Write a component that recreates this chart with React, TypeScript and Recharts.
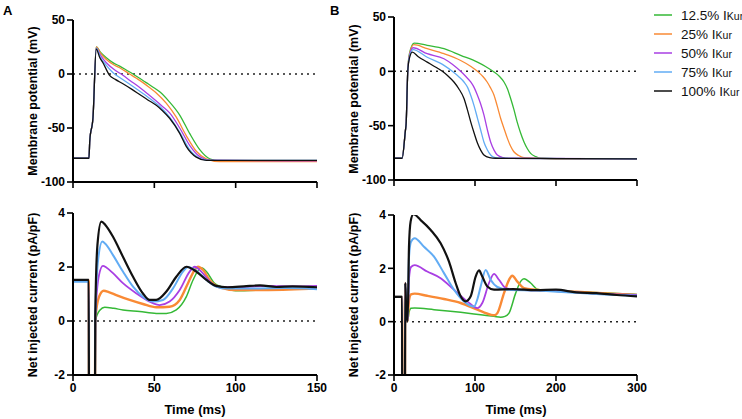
import React from 'react';
import { LineChart, Line, XAxis, YAxis, ReferenceLine } from 'recharts';

type Pt = [number, number];

const COLORS = {
  green: '#35b936',
  orange: '#f98a35',
  purple: '#a93fe3',
  blue: '#62acf4',
  black: '#111111',
};

const LEGEND_LABELS = ['12.5%', '25%', '50%', '75%', '100%'];
const LEGEND_COLORS = [COLORS.green, COLORS.orange, COLORS.purple, COLORS.blue, COLORS.black];

// A: membrane potential, 0-150 ms
const apA_green: Pt[] = [[0,-78],[9.8,-78],[10.3,-62],[12.3,-40],[14.3,25],[17,20],[20.5,15],[24.5,10.5],[28.7,7.3],[33,3.5],[36.9,0],[41,-4],[45,-8],[49,-12],[53.3,-16.5],[59.4,-26],[65.6,-38],[71.7,-55],[77.9,-70],[84,-78.5],[90,-80.5],[120,-80.5],[150,-80.5]];
const apA_orange: Pt[] = [[0,-78],[9.8,-78],[10.3,-62],[12.3,-40],[14.3,25],[17,19],[20.5,13.5],[24.5,9],[28.7,5.8],[34.8,0],[39,-4],[43,-8],[47,-12.5],[51.2,-17.5],[57.3,-27],[63.5,-40],[69.6,-57],[75.8,-71.5],[81.9,-78.5],[90,-81],[150,-81]];
const apA_purple: Pt[] = [[0,-78],[9.8,-78],[10.3,-62],[12.3,-40],[14.3,24],[17,17],[20.5,10.4],[26.6,2.8],[30.7,-1.2],[35,-6],[41,-12.5],[46,-18.5],[51.2,-25],[55,-30],[59.4,-36],[65.6,-50],[71.7,-66],[77.9,-76.5],[84,-79.8],[150,-80.5]];
const apA_blue: Pt[] = [[0,-78],[9.8,-78],[10.3,-62],[12.3,-40],[14.3,24],[17,15],[20.5,8],[24.6,1.2],[26.6,-1.2],[31,-5.5],[36.9,-11.5],[43,-18],[49.2,-25],[54,-31],[59.4,-40],[65.6,-54],[71.7,-70],[77.9,-78],[84,-80],[150,-80]];
const apA_black: Pt[] = [[0,-78],[9.8,-78],[10.3,-62],[12.3,-40],[14.3,23],[16.5,15],[18.4,10.4],[22.5,-1.2],[26,-5],[30.7,-9],[36,-14],[41,-19],[46,-24],[51.2,-29],[55,-34],[59.4,-41],[65.6,-55],[69.6,-67],[75.8,-77],[82,-80],[150,-80]];

// B: membrane potential, 0-300 ms
const apB_green: Pt[] = [[0,-80],[10,-80],[14,-55],[15,-48],[17,0],[19,16],[24.7,26],[41,23.9],[61.7,20.8],[82.3,14.7],[103,8.5],[113,4.5],[123.5,-0.6],[130,-4.5],[135.8,-9.8],[140,-16],[144,-25],[148,-35],[152,-46.5],[156,-56],[160.5,-65],[164.5,-71],[168.7,-75.5],[175,-78.5],[181,-80],[220,-80.5],[300,-80.5]];
const apB_orange: Pt[] = [[0,-80],[10,-80],[14,-55],[15,-48],[17,0],[19,15],[24.5,24.5],[41,20.8],[61.7,16.2],[82.3,10],[95,4.5],[103,0],[110,-5],[115,-9.8],[119,-15],[123.5,-22],[127.5,-32],[131.7,-43.4],[136,-53],[140,-61.7],[144,-69],[148,-74],[154,-77.5],[160.5,-79.5],[200,-80.5],[300,-80.5]];
const apB_purple: Pt[] = [[0,-80],[10,-80],[14,-55],[15,-48],[17,0],[19,14],[23.5,21.7],[41,16.2],[61.7,11.6],[72,6.5],[82.3,0],[89,-5],[94.7,-9.8],[99,-15],[103,-22],[107,-30],[111,-40],[115,-53],[119.3,-65],[123.5,-72.5],[127.6,-77],[135,-79.5],[140,-80],[300,-80.5]];
const apB_blue: Pt[] = [[0,-80],[10,-80],[14,-55],[15,-48],[17,0],[19,13],[23.5,20],[41,13],[61.7,5.5],[72,0],[80,-5],[86.4,-9.8],[91,-15],[94.7,-22],[99,-32],[103,-43],[107,-54],[111,-65],[115,-72],[119.3,-77],[125,-79.5],[132,-80],[300,-80.5]];
const apB_black: Pt[] = [[0,-80],[10,-80],[14,-55],[15,-48],[17,0],[19,12],[22.6,17.7],[30,13.5],[41,8.5],[50,4.5],[59.7,0],[67,-4.5],[74,-9.8],[80,-16],[86.4,-25],[90.5,-35],[94.7,-46.5],[99,-57],[103,-66],[107,-72.5],[111,-77],[118,-79.5],[125,-80],[300,-80.5]];

// A: net injected current, 0-150 ms
const iA_green: Pt[] = [[0,1.5],[9.7,1.5],[9.9,-8],[13.2,-8],[13.7,0],[16.5,0.4],[19.5,0.51],[25,0.47],[30.7,0.41],[41,0.35],[51.2,0.28],[57.4,0.28],[63.5,0.41],[69.7,0.9],[73.8,1.52],[78.9,1.97],[82,1.83],[87,1.4],[92.2,1.25],[100,1.12],[115,1.15],[130,1.2],[150,1.2]];
const iA_orange: Pt[] = [[0,1.5],[9.7,1.5],[9.9,-8],[13.2,-8],[13.7,0.05],[16,0.9],[18.9,1.12],[22,1.07],[26.6,0.96],[34.8,0.78],[43,0.63],[51.2,0.51],[59.4,0.53],[65.6,0.78],[70.7,1.4],[74.8,1.89],[76.8,2.01],[80,1.89],[84,1.52],[90,1.25],[100,1.15],[120,1.15],[150,1.2]];
const iA_purple: Pt[] = [[0,1.5],[9.7,1.5],[9.9,-8],[13.2,-8],[13.7,0.1],[16,1.7],[18.4,2.04],[20.5,1.98],[24.6,1.77],[30.7,1.4],[39,1.02],[47.1,0.72],[53.3,0.59],[59.4,0.72],[65.6,1.15],[71.7,1.83],[74.8,2.01],[78.9,1.83],[84,1.46],[90,1.25],[100,1.25],[120,1.3],[135,1.28],[150,1.3]];
const iA_blue: Pt[] = [[0,1.45],[9.7,1.45],[9.9,-8],[13.2,-8],[13.7,0.2],[15.5,2.3],[18,2.94],[20,2.85],[24.6,2.44],[30.7,1.83],[36.9,1.27],[43,0.9],[49.2,0.72],[55.3,0.78],[61.5,1.21],[67.6,1.83],[70.7,2],[75.8,1.86],[82,1.52],[88,1.28],[95,1.2],[110,1.2],[130,1.22],[150,1.18]];
const iA_black: Pt[] = [[0,1.52],[9.7,1.52],[9.9,-8],[13.2,-8],[13.7,0.2],[15,2.8],[17.4,3.68],[20,3.55],[24.6,3.12],[30.7,2.38],[36.9,1.64],[43,1.02],[47.1,0.78],[51.2,0.78],[57.4,1.09],[63.5,1.64],[69.7,2.01],[75.8,1.83],[82,1.52],[88,1.3],[95,1.25],[105,1.28],[115,1.32],[125,1.26],[135,1.28],[150,1.25]];

// B: net injected current, 0-300 ms
const iB_green: Pt[] = [[0,0.93],[10,0.93],[10.2,-8],[13.2,-8],[13.9,1.45],[15.2,0.3],[16.8,0.02],[18.5,0.35],[21,0.5],[25.5,0.51],[49.4,0.45],[82.3,0.35],[107,0.26],[123.5,0.2],[131.7,0.17],[137,0.2],[142,0.32],[150.2,1.07],[156.4,1.51],[160.5,1.61],[168.7,1.45],[177,1.22],[190,1.17],[240,1.1],[300,1.02]];
const iB_orange: Pt[] = [[0,0.93],[10,0.93],[10.2,-8],[13.2,-8],[13.9,1.45],[15.2,0.3],[16.8,0.02],[18.5,0.8],[21,1.02],[25.5,1.05],[41,0.97],[61.7,0.85],[82.3,0.7],[102.9,0.45],[119.3,0.26],[124,0.24],[127.6,0.32],[135.8,1.07],[142,1.57],[146,1.72],[152.3,1.5],[160.5,1.26],[175,1.2],[225,1.12],[300,1]];
const iB_purple: Pt[] = [[0,0.93],[10,0.93],[10.2,-8],[13.2,-8],[13.9,1.45],[15.2,0.3],[16.8,0.02],[18.5,1.6],[21,2.05],[25.5,2.12],[41,1.88],[57.6,1.63],[74,1.2],[90.5,0.76],[102.9,0.51],[109,0.7],[117.3,1.45],[123.5,1.79],[129.6,1.57],[137.9,1.26],[150,1.2],[200,1.15],[250,1.05],[300,1]];
const iB_blue: Pt[] = [[0,0.93],[10,0.93],[10.2,-8],[13.2,-8],[13.9,1.45],[15.2,0.3],[16.8,0.02],[18.5,2.4],[21,3],[25.5,3.13],[37,2.81],[49.4,2.44],[61.7,1.82],[74,1.2],[86.4,0.76],[98.8,0.57],[103,0.85],[107,1.32],[113.2,1.94],[119.3,1.57],[127.6,1.3],[140,1.2],[175,1.17],[225,1.08],[260,1.02],[300,0.97]];
const iB_black: Pt[] = [[0,0.93],[10,0.93],[10.2,-8],[13.2,-8],[13.9,1.45],[15.2,0.3],[16.8,0.02],[18.5,2.8],[20.5,3.75],[23.9,4.03],[32.9,3.81],[45.3,3.44],[57.6,2.94],[67.9,2.25],[76.1,1.45],[82.3,0.95],[88.5,0.76],[94.7,0.95],[100.8,1.69],[105,1.92],[109,1.69],[115.2,1.32],[123.5,1.2],[147,1.22],[175,1.18],[200,1.2],[225,1.1],[250,1.07],[275,1],[300,0.95]];

const X_TICKS_A = [0, 50, 100, 150];
const X_TICKS_B = [0, 100, 200, 300];
const V_TICKS = [-100, -50, 0, 50];
const I_TICKS = [-2, 0, 2, 4];

interface Series {
  name: string;
  color: string;
  width: number;
  pts: Pt[];
}

const toRows = (pts: Pt[]) => pts.map(([x, y]) => ({ x, y }));

interface PanelProps {
  left: number;
  top: number;
  width: number;
  height: number;
  marginTop: number;
  xDomain: [number, number];
  xTicks: number[];
  showXLabels: boolean;
  yDomain: [number, number];
  yTicks: number[];
  series: Series[];
}

const Panel = ({ left, top, width, height, marginTop, xDomain, xTicks, showXLabels, yDomain, yTicks, series }: PanelProps) => (
  <div style={{ position: 'absolute', left, top }}>
    <LineChart width={width} height={height} margin={{ top: marginTop, right: 13, bottom: 0, left: 0 }}>
      <XAxis
        type="number"
        dataKey="x"
        domain={xDomain}
        ticks={xTicks}
        interval={0}
        allowDataOverflow
        height={showXLabels ? 30 : 18}
        axisLine={{ stroke: '#000', strokeWidth: 2 }}
        tickLine={{ stroke: '#000', strokeWidth: 1.6 }}
        tickSize={6}
        tick={{ fill: '#000', fontSize: 12, fontWeight: 700 }}
        tickFormatter={showXLabels ? undefined : () => ''}
      />
      <YAxis
        type="number"
        dataKey="y"
        domain={yDomain}
        ticks={yTicks}
        interval={0}
        allowDataOverflow
        width={73}
        axisLine={{ stroke: '#000', strokeWidth: 2 }}
        tickLine={{ stroke: '#000', strokeWidth: 1.6 }}
        tickSize={6}
        tick={{ fill: '#000', fontSize: 12, fontWeight: 700 }}
      />
      <ReferenceLine y={0} stroke="#222" strokeWidth={1.5} strokeDasharray="2 4" />
      {series.map((s) => (
        <Line
          key={s.name}
          data={toRows(s.pts)}
          dataKey="y"
          type="monotone"
          stroke={s.color}
          strokeWidth={s.width}
          dot={false}
          isAnimationActive={false}
        />
      ))}
    </LineChart>
  </div>
);

const mk = (pts: Pt[][], widths: number[]): Series[] =>
  pts.map((p, i) => ({ name: LEGEND_LABELS[i], color: LEGEND_COLORS[i], width: widths[i], pts: p }));

export default function App() {
  const topW = [1.3, 1.3, 1.3, 1.3, 1.3];
  const botW = [1.5, 2.4, 1.8, 2, 2.2];
  return (
    <div
      style={{
        position: 'absolute',
        left: 0,
        top: 0,
        width: 742,
        height: 419,
        background: '#fff',
        fontFamily: '"Liberation Sans", Arial, sans-serif',
        overflow: 'hidden',
      }}
    >
      <Panel left={0} top={0} width={330} height={200} marginTop={20} xDomain={[0, 150]} xTicks={X_TICKS_A} showXLabels={false}
        yDomain={[-100, 50]} yTicks={V_TICKS} series={mk([apA_green, apA_orange, apA_purple, apA_blue, apA_black], topW)} />
      <Panel left={0} top={193} width={330} height={212} marginTop={20} xDomain={[0, 150]} xTicks={X_TICKS_A} showXLabels
        yDomain={[-2, 4]} yTicks={I_TICKS} series={mk([iA_green, iA_orange, iA_purple, iA_blue, iA_black], botW)} />
      <Panel left={321} top={0} width={329} height={198} marginTop={17} xDomain={[0, 300]} xTicks={X_TICKS_B} showXLabels={false}
        yDomain={[-100, 50]} yTicks={V_TICKS} series={mk([apB_green, apB_orange, apB_purple, apB_blue, apB_black], topW)} />
      <Panel left={321} top={195} width={329} height={210} marginTop={20} xDomain={[0, 300]} xTicks={X_TICKS_B} showXLabels
        yDomain={[-2, 4]} yTicks={I_TICKS} series={mk([iB_green, iB_orange, iB_purple, iB_blue, iB_black], botW)} />

      <svg width={742} height={419} style={{ position: 'absolute', left: 0, top: 0, pointerEvents: 'none' }}>
        <text x={3} y={15} fontSize={13} fontWeight={700}>A</text>
        <text x={330} y={15} fontSize={13} fontWeight={700}>B</text>
        <text transform="translate(37,101) rotate(-90)" textAnchor="middle" fontSize={12.5} fontWeight={700}>Membrane potential (mV)</text>
        <text transform="translate(37,295) rotate(-90)" textAnchor="middle" fontSize={12.5} fontWeight={700}>Net injected current (pA/pF)</text>
        <text transform="translate(358,99) rotate(-90)" textAnchor="middle" fontSize={12.5} fontWeight={700}>Membrane potential (mV)</text>
        <text transform="translate(358,295) rotate(-90)" textAnchor="middle" fontSize={12.5} fontWeight={700}>Net injected current (pA/pF)</text>
        <text x={195} y={414} textAnchor="middle" fontSize={13} fontWeight={700}>Time (ms)</text>
        <text x={516} y={414} textAnchor="middle" fontSize={13} fontWeight={700}>Time (ms)</text>
        {LEGEND_LABELS.map((lab, i) => (
          <g key={lab}>
            <line x1={654} x2={672} y1={15 + i * 19} y2={15 + i * 19} stroke={LEGEND_COLORS[i]} strokeWidth={1.5} />
            <text x={681} y={20 + i * 19} fontSize={13.5} fill="#111">
              {lab} I<tspan fontSize={10.5}>Kur</tspan>
            </text>
          </g>
        ))}
      </svg>
    </div>
  );
}
